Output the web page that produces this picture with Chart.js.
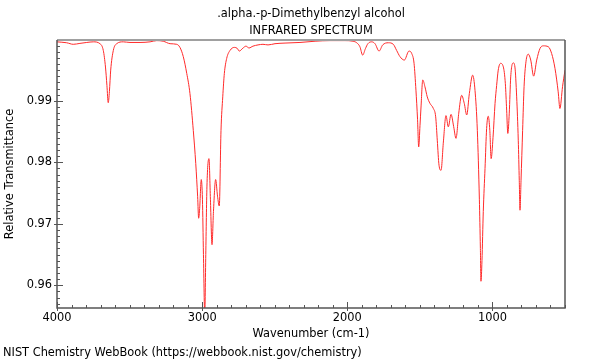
<!DOCTYPE html>
<html>
<head>
<meta charset="utf-8">
<script src="https://cdn.jsdelivr.net/npm/chart.js@4/dist/chart.umd.min.js"></script>
<style>
  html, body { margin: 0; padding: 0; background: #fff; }
  #wrap { position: relative; width: 600px; height: 360px; overflow: hidden; }
  #c { position: absolute; left: 0; top: 0; }
  .t { position: absolute; font-family: "DejaVu Sans", sans-serif; font-size: 11.4px; line-height: 14px; color: #000; white-space: nowrap; }
  .title { left: 57px; width: 508px; text-align: center; }
</style>
</head>
<body>
<div id="wrap">
  <canvas id="c" width="600" height="360"></canvas>
  <div class="t title" style="top:6px">.alpha.-p-Dimethylbenzyl alcohol</div>
  <div class="t title" style="top:23px">INFRARED SPECTRUM</div>
  <div class="t" style="left:3px; top:345px">NIST Chemistry WebBook (https://webbook.nist.gov/chemistry)</div>
</div>
<script>
// ---- data ----
const wavenumbers = [
  4000, 3933, 3888, 3842, 3795, 3750, 3704, 3681, 3666, 3656, 3647, 3639, 3630, 3612, 3589,
  3543, 3497, 3428, 3359, 3313, 3268, 3221, 3175, 3153, 3130, 3106, 3084, 3061, 3044, 3031,
  3024, 3017, 3006, 2998, 2991, 2982, 2975, 2967, 2953, 2943, 2932, 2922, 2907, 2894, 2882,
  2870, 2858, 2847, 2831, 2808, 2778, 2758, 2744, 2718, 2698, 2677, 2650, 2615, 2581, 2546,
  2498, 2429, 2326, 2222, 2119, 2016, 1961, 1935, 1913, 1894, 1875, 1858, 1832, 1809, 1781,
  1756, 1717, 1683, 1660, 1637, 1607, 1575, 1556, 1540, 1527, 1516, 1508, 1499, 1492, 1480,
  1465, 1449, 1430, 1407, 1391, 1380, 1368, 1354, 1338, 1320, 1304, 1285, 1267, 1251, 1232,
  1212, 1194, 1177, 1159, 1136, 1120, 1104, 1090, 1083, 1079, 1072, 1063, 1051, 1040, 1029,
  1018, 1009, 996, 982, 971, 960, 944, 925, 911, 902, 894, 884, 874, 856, 845,
  833, 822, 815, 810, 803, 792, 782, 769, 753, 736, 716, 695, 672, 649, 615,
  592, 569, 547, 535, 517, 500
];
const transmittance = [
  0.9996, 0.99945, 0.9992, 0.99935, 0.9995, 0.9996, 0.9993, 0.9982, 0.9955, 0.9925, 0.9897, 0.9915, 0.9950, 0.9982, 0.9993,
  0.9996, 0.9995, 0.9995, 0.9996, 0.9998, 0.9997, 0.9993, 0.9992, 0.9987, 0.9972, 0.99446, 0.9912, 0.9852, 0.9798, 0.9744,
  0.9709, 0.9725, 0.9772, 0.9740, 0.9650, 0.9552, 0.9650, 0.9760, 0.9806, 0.9740, 0.9666, 0.9720, 0.9772, 0.9745, 0.9729,
  0.9852, 0.99065, 0.99446, 0.9969, 0.9982, 0.9987, 0.99853, 0.9981, 0.9986, 0.9989, 0.9986, 0.9989, 0.9991, 0.9992, 0.9991,
  0.9993, 0.9994, 0.9995, 0.9997, 0.9998, 0.9998, 0.9997, 0.99945, 0.9988, 0.99744, 0.9985, 0.9993, 0.9996, 0.9993, 0.9981,
  0.9991, 0.99945, 0.9992, 0.9982, 0.9972, 0.99663, 0.9981, 0.9977, 0.9961, 0.99174, 0.9870, 0.9825, 0.9860, 0.9890, 0.9934,
  0.9923, 0.99065, 0.98958, 0.98876, 0.9874, 0.9836, 0.97953, 0.9787, 0.9833, 0.9876, 0.98577, 0.9878, 0.9858, 0.9839, 0.9880,
  0.9909, 0.98958, 0.9877, 0.9912, 0.99418, 0.9917, 0.9852, 0.9740, 0.9660, 0.96065, 0.9640, 0.9720, 0.9790, 0.9855, 0.9875,
  0.9852, 0.9806, 0.9840, 0.98958, 0.9925, 0.9950, 0.9961, 0.99553, 0.9928, 0.98849, 0.9847, 0.9880, 0.9939, 0.99618, 0.9955,
  0.99065, 0.9836, 0.9770, 0.97221, 0.9770, 0.9852, 0.9923, 0.99635, 0.9976, 0.99663, 0.99402, 0.99663, 0.99853, 0.99895, 0.9988,
  0.9977, 0.99528, 0.99147, 0.98876, 0.9923, 0.9950
];
const xTickLabels = [4000, 3000, 2000, 1000];
const yTickLabels = [0.99, 0.98, 0.97, 0.96];
const xRange = [500, 4000];
const yRange = [0.9563, 0.9999];

const points = wavenumbers.map((w, i) => ({ x: w, y: transmittance[i] }));

const FONT = { family: '"DejaVu Sans", sans-serif', size: 11.4, lineHeight: 1.2 };

const frameTicks = {
  id: 'frameTicks',
  afterDraw(chart) {
    const { ctx, chartArea: a, scales: { x, y } } = chart;
    ctx.save();
    ctx.strokeStyle = '#555';
    ctx.lineWidth = 1;
    ctx.beginPath();
    for (let v = xRange[0]; v <= xRange[1]; v += 100) {
      const px = Math.round(x.getPixelForValue(v)) + 0.5;
      const major = v % 1000 === 0;
      ctx.moveTo(px, a.bottom + (major ? 3 : 0));
      ctx.lineTo(px, a.bottom - (major ? 6 : 3));
    }
    for (let k = Math.ceil(yRange[0] * 1000); k <= Math.floor(yRange[1] * 1000); k++) {
      const py = Math.round(y.getPixelForValue(k / 1000)) + 0.5;
      const major = k % 10 === 0;
      ctx.moveTo(a.left - (major ? 3 : 0), py);
      ctx.lineTo(a.left + (major ? 6 : 3), py);
    }
    ctx.stroke();
    ctx.lineWidth = 2;
    ctx.strokeStyle = '#a0a0a0';
    ctx.beginPath();
    ctx.moveTo(a.left, a.top);
    ctx.lineTo(a.right, a.top);
    ctx.stroke();
    ctx.strokeStyle = '#555';
    ctx.lineWidth = 1.5;
    ctx.beginPath();
    ctx.moveTo(a.right, a.top);
    ctx.lineTo(a.right, a.bottom);
    ctx.lineTo(a.left, a.bottom);
    ctx.lineTo(a.left, a.top);
    ctx.stroke();
    ctx.restore();
  }
};

const near = (list, v, eps) => list.find(t => Math.abs(t - v) < eps);

new Chart(document.getElementById('c'), {
  type: 'line',
  data: {
    datasets: [{
      data: points,
      borderColor: '#ff2a2a',
      borderWidth: 1,
      pointRadius: 0,
      fill: false,
      cubicInterpolationMode: 'monotone'
    }]
  },
  options: {
    responsive: false,
    animation: false,
    events: [],
    layout: { padding: { top: 40, right: 35, bottom: 18, left: 0 } },
    plugins: { legend: { display: false }, tooltip: { enabled: false }, title: { display: false } },
    scales: {
      x: {
        type: 'linear',
        reverse: true,
        min: xRange[0],
        max: xRange[1],
        grid: { display: false, drawTicks: false },
        border: { display: false },
        ticks: {
          stepSize: 500,
          autoSkip: false,
          maxRotation: 0,
          padding: 3,
          color: '#000',
          font: FONT,
          callback: (v) => { const t = near(xTickLabels, v, 1e-3); return t !== undefined ? String(t) : ''; }
        },
        title: { display: true, text: 'Wavenumber (cm-1)', color: '#000', font: FONT, padding: { top: 0, bottom: 1 } },
        afterFit: (s) => { s.height = 34; }
      },
      y: {
        min: yRange[0],
        max: yRange[1],
        grid: { display: false, drawTicks: false },
        border: { display: false },
        ticks: {
          stepSize: 0.01,
          autoSkip: false,
          padding: 5,
          color: '#000',
          font: FONT,
          callback: (v) => { const t = near(yTickLabels, v, 1e-7); return t !== undefined ? t.toFixed(2) : ''; }
        },
        title: { display: true, text: 'Relative Transmittance', color: '#000', font: FONT, padding: { top: 3, bottom: 0 } },
        afterFit: (s) => { s.width = 57; }
      }
    }
  },
  plugins: [frameTicks]
});
</script>
</body>
</html>
